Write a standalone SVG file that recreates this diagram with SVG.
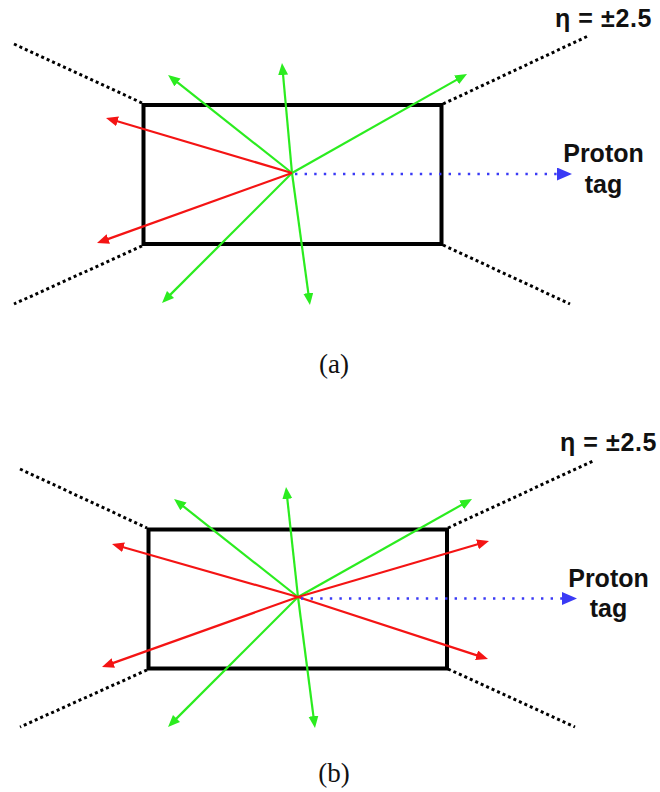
<svg xmlns="http://www.w3.org/2000/svg" width="660" height="792" viewBox="0 0 660 792">
<style>
.det{fill:none;stroke:#000;stroke-width:4}
.eta{fill:none;stroke:#000;stroke-width:3;stroke-dasharray:3 3}
.g{stroke:#2bec1f;stroke-width:2.2;fill:none;marker-end:url(#ag)}
.r{stroke:#f41414;stroke-width:2.2;fill:none;marker-end:url(#ar)}
.b{stroke:#3a3af5;stroke-width:2.4;fill:none;stroke-dasharray:2.4 7.2;marker-end:url(#ab)}
.lbl{font-family:"Liberation Sans",Arial,Helvetica,sans-serif;font-weight:bold;font-size:25px;fill:#111}
.eta-t{letter-spacing:0.6px}
.cap{font-family:"Liberation Serif","Times New Roman",serif;font-size:27px;fill:#111}
</style>
<defs>
<marker id="ag" markerUnits="userSpaceOnUse" markerWidth="14" markerHeight="12" refX="2" refY="5" orient="auto"><path d="M0,0 L12,5 L0,10 z" fill="#2bec1f"/></marker>
<marker id="ar" markerUnits="userSpaceOnUse" markerWidth="14" markerHeight="12" refX="2" refY="5" orient="auto"><path d="M0,0 L12,5 L0,10 z" fill="#f41414"/></marker>
<marker id="ab" markerUnits="userSpaceOnUse" markerWidth="16" markerHeight="14" refX="0" refY="6.5" orient="auto"><path d="M0,0 L15,6.5 L0,13 z" fill="#3a3af5"/></marker>
</defs>

<g id="panel-a">
  <g id="detector-a"><rect class="det" x="143.5" y="105" width="298" height="139"/></g>
  <g id="eta-lines-a">
    <line class="eta" x1="14" y1="44" x2="142" y2="103"/>
    <line class="eta" x1="142" y1="246" x2="14" y2="304"/>
    <line class="eta" x1="443" y1="104" x2="588" y2="36"/>
    <line class="eta" x1="443" y1="245" x2="570" y2="304"/>
  </g>
  <g id="connectors-a">
    <line class="g" x1="292" y1="173" x2="175.9" y2="81.2"/>
    <line class="g" x1="292" y1="173" x2="282.9" y2="73"/>
    <line class="g" x1="292" y1="173" x2="169.1" y2="295.9"/>
    <line class="g" x1="292" y1="173" x2="308.6" y2="295.1"/>
    <line class="g" x1="292" y1="173" x2="458.3" y2="78.9"/>
    <line class="r" x1="292" y1="173" x2="115.6" y2="120.8"/>
    <line class="r" x1="292" y1="173" x2="106.4" y2="239.6"/>
    <line class="b" x1="295" y1="174" x2="557" y2="174"/>
  </g>
  <g id="label-eta-a"><text class="lbl eta-t" x="652" y="27" text-anchor="end">η = ±2.5</text></g>
  <g id="label-proton-a"><text class="lbl" text-anchor="middle"><tspan x="603.5" y="162">Proton</tspan><tspan x="603.5" y="193">tag</tspan></text></g>
  <text class="cap" x="334" y="373" text-anchor="middle">(a)</text>
</g>

<g id="panel-b">
  <g id="detector-b"><rect class="det" x="148.5" y="529.5" width="298.5" height="139"/></g>
  <g id="eta-lines-b">
    <line class="eta" x1="20" y1="469" x2="147" y2="528"/>
    <line class="eta" x1="147" y1="670" x2="20" y2="727"/>
    <line class="eta" x1="448" y1="528" x2="593" y2="461"/>
    <line class="eta" x1="448" y1="669" x2="575" y2="727"/>
  </g>
  <g id="connectors-b">
    <line class="g" x1="298" y1="597" x2="181.9" y2="505.2"/>
    <line class="g" x1="298" y1="597" x2="287.1" y2="496.9"/>
    <line class="g" x1="298" y1="597" x2="175.1" y2="719.9"/>
    <line class="g" x1="298" y1="597" x2="313.7" y2="718.1"/>
    <line class="g" x1="298" y1="597" x2="463.3" y2="503.9"/>
    <line class="r" x1="298" y1="597" x2="121.6" y2="546.7"/>
    <line class="r" x1="298" y1="597" x2="111.4" y2="663.6"/>
    <line class="r" x1="298" y1="597" x2="479.4" y2="543.8"/>
    <line class="r" x1="298" y1="597" x2="478.5" y2="655.9"/>
    <line class="b" x1="301" y1="598.5" x2="562" y2="598.5"/>
  </g>
  <g id="label-eta-b"><text class="lbl eta-t" x="657" y="451" text-anchor="end">η = ±2.5</text></g>
  <g id="label-proton-b"><text class="lbl" text-anchor="middle"><tspan x="608.5" y="587">Proton</tspan><tspan x="608.5" y="617">tag</tspan></text></g>
  <text class="cap" x="334" y="782" text-anchor="middle">(b)</text>
</g>
</svg>
